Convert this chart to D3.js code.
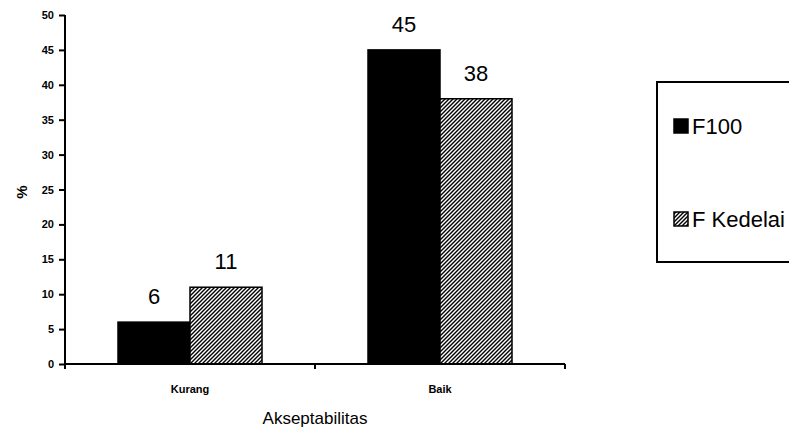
<!DOCTYPE html>
<html>
<head>
<meta charset="utf-8">
<script src="https://cdn.jsdelivr.net/npm/d3@7"></script>
<style>
  html, body { margin: 0; padding: 0; background: #fff; }
  svg { display: block; }
</style>
</head>
<body>
<svg id="chart" width="789" height="428"></svg>
<script>
// Acceptability (%) per category, two formulas
const categories = ["Kurang", "Baik"];
const seriesNames = ["F100", "F Kedelai"];
const f100 = [6, 45];
const fKedelai = [11, 38];
const yTicks = [0, 5, 10, 15, 20, 25, 30, 35, 40, 45, 50];

const svg = d3.select("#chart");
const sans = "'Liberation Sans', Arial, sans-serif";

// Diagonal hatch fill for the second series
const defs = svg.append("defs");
const pat = defs.append("pattern")
  .attr("id", "hatch")
  .attr("patternUnits", "userSpaceOnUse")
  .attr("width", 4).attr("height", 4);
pat.append("rect").attr("width", 4).attr("height", 4).attr("fill", "#fff");
pat.append("path")
  .attr("d", "M-1,1 l2,-2 M0,4 l4,-4 M3,5 l2,-2")
  .attr("stroke", "#000").attr("stroke-width", 1.4);

const x0 = 65, x1 = 565, yTop = 15, yBot = 364;

const x = d3.scaleBand().domain(categories).range([x0, x1]).paddingInner(0).paddingOuter(0);
const xs = d3.scaleBand().domain(seriesNames).range([0, 144]);
const y = d3.scaleLinear().domain([0, 50]).range([yBot, yTop]);

const rows = categories.map((c, i) => ({ cat: c, vals: [f100[i], fKedelai[i]] }));
const fills = ["#000", "url(#hatch)"];

// Bars
const groups = svg.append("g").selectAll("g").data(rows).join("g")
  .attr("transform", d => `translate(${x(d.cat) + (x.bandwidth() - 144) / 2},0)`);

groups.selectAll("rect").data(d => d.vals.map((v, j) => ({ v, j })))
  .join("rect")
  .attr("x", d => xs(seriesNames[d.j]))
  .attr("y", d => y(d.v))
  .attr("width", xs.bandwidth())
  .attr("height", d => y(0) - y(d.v))
  .attr("fill", d => fills[d.j])
  .attr("stroke", "#000").attr("stroke-width", 1.5);

// Value labels
groups.selectAll("text.val").data(d => d.vals.map((v, j) => ({ v, j })))
  .join("text").attr("class", "val")
  .attr("x", d => xs(seriesNames[d.j]) + xs.bandwidth() / 2)
  .attr("y", d => y(d.v) - 18)
  .attr("text-anchor", "middle")
  .attr("font-family", sans).attr("font-size", 22)
  .text(d => d.v);

// Y axis
const yAxis = svg.append("g").attr("transform", `translate(${x0},0)`)
  .call(d3.axisLeft(y).tickValues(yTicks).tickSize(6).tickPadding(5));
yAxis.select(".domain").attr("stroke", "#000").attr("stroke-width", 2).attr("d", `M0,${yTop}V${yBot}`);
yAxis.selectAll(".tick line").attr("stroke", "#000").attr("stroke-width", 2);
yAxis.selectAll(".tick text").attr("font-family", sans).attr("font-weight", "bold")
  .attr("font-size", 11).attr("fill", "#000");

// X axis
const xAxis = svg.append("g").attr("transform", `translate(0,${yBot})`)
  .call(d3.axisBottom(x).tickSize(0).tickPadding(21));
xAxis.select(".domain").attr("stroke", "#000").attr("stroke-width", 2).attr("d", `M${x0},0H${x1}`);
xAxis.selectAll(".tick text").attr("font-family", sans).attr("font-weight", "bold")
  .attr("font-size", 11).attr("fill", "#000");
// Category boundary ticks
xAxis.selectAll("line.sep").data(categories.map(c => x(c)).concat([x1]))
  .join("line").attr("class", "sep")
  .attr("x1", d => d).attr("x2", d => d)
  .attr("y1", 0).attr("y2", 5)
  .attr("stroke", "#000").attr("stroke-width", 2);

// Axis titles
svg.append("text")
  .attr("x", (x0 + x1) / 2).attr("y", 424)
  .attr("text-anchor", "middle")
  .attr("font-family", sans).attr("font-size", 17)
  .text("Akseptabilitas");

svg.append("text")
  .attr("transform", `translate(27,192) rotate(-90)`)
  .attr("text-anchor", "middle")
  .attr("font-family", sans).attr("font-weight", "bold").attr("font-size", 15)
  .text("%");

// Legend
const legend = svg.append("g");
legend.append("rect")
  .attr("x", 657).attr("y", 82).attr("width", 160).attr("height", 180)
  .attr("fill", "#fff").attr("stroke", "#000").attr("stroke-width", 2);
const legY = [134, 227];
seriesNames.forEach((name, j) => {
  legend.append("rect")
    .attr("x", 674).attr("y", legY[j] - 15).attr("width", 14).attr("height", 14)
    .attr("fill", fills[j]).attr("stroke", "#000").attr("stroke-width", 1.5);
  legend.append("text")
    .attr("x", 692).attr("y", legY[j])
    .attr("font-family", sans).attr("font-size", 22)
    .text(name);
});
</script>
</body>
</html>
